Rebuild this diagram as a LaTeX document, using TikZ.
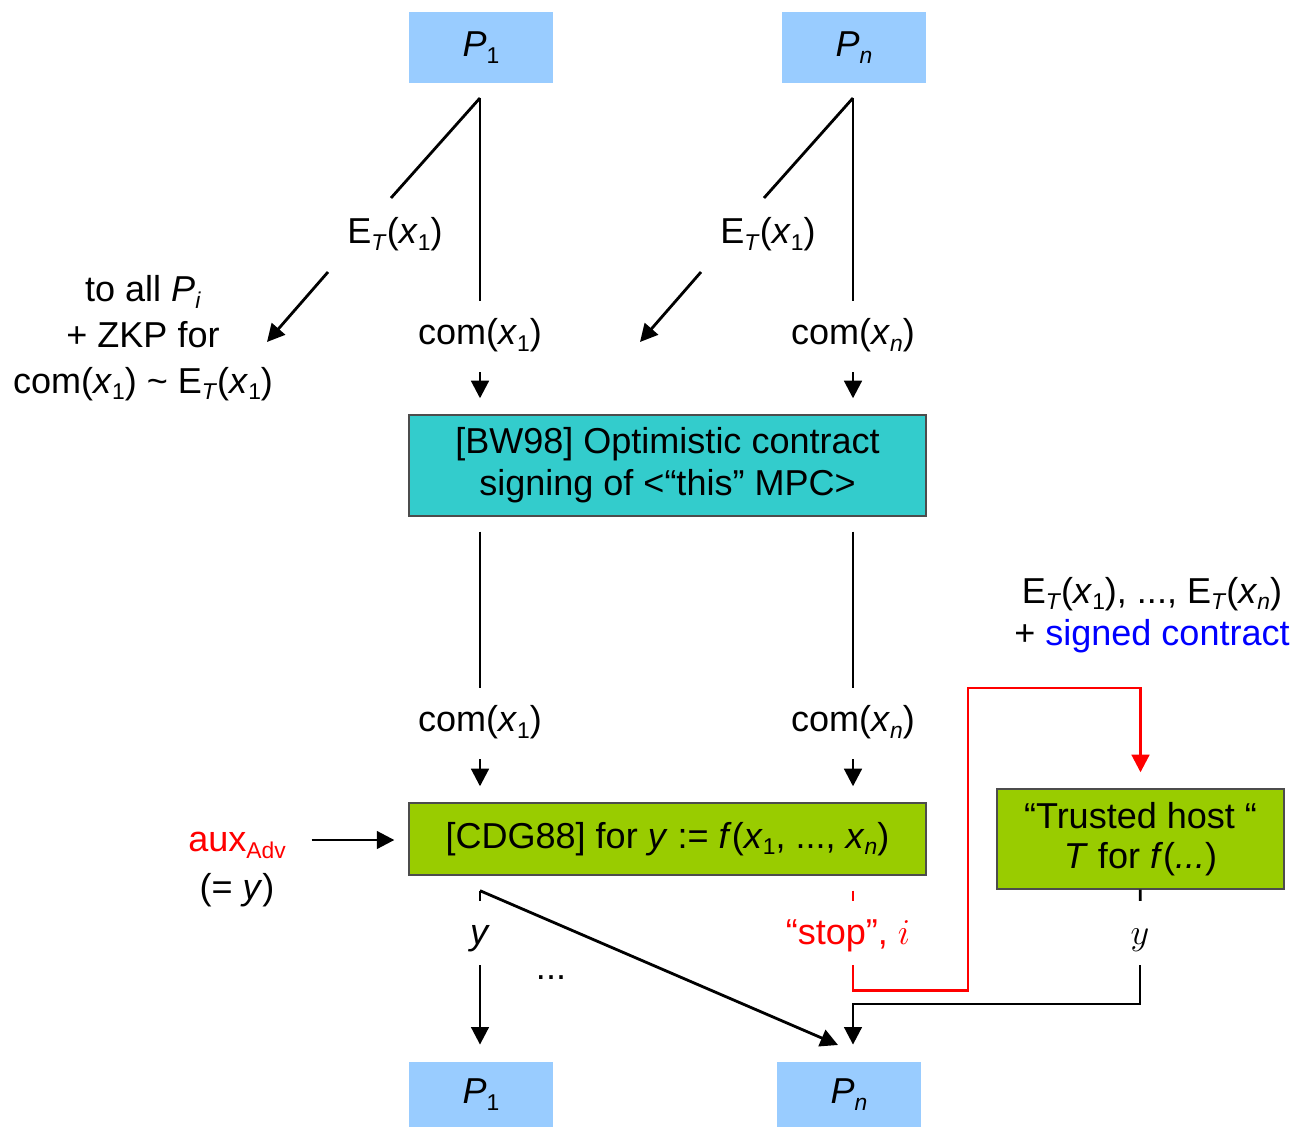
\documentclass[tikz,border=0pt]{standalone}
\usepackage{fontspec}
\setmainfont{Liberation Sans}
\usetikzlibrary{arrows.meta}
\definecolor{partyblue}{HTML}{99CCFF}
\definecolor{signteal}{HTML}{33CCCC}
\definecolor{mpcgreen}{HTML}{99CC00}
\newcommand{\lowidx}[1]{\raisebox{-0.35ex}{\fontsize{13}{13}\selectfont #1}}
\newcommand{\ix}{\textit{x}}

\begin{document}
\begin{tikzpicture}[x=0.02cm, y=-0.02cm,
        every node/.style={font=\fontsize{20.5}{24}\selectfont},
        line width=1.6pt, >={Triangle[length=10pt,width=10pt]},
        party/.style={fill=partyblue, minimum width=2.88cm, minimum height=1.42cm, inner sep=0pt},
        stagebox/.style={draw=black!70, line width=0.8pt, minimum width=10.34cm, align=center, inner sep=0pt},
        lbl/.style={inner xsep=2pt, inner ysep=10pt, text height=14pt, text depth=1pt},
        fromgap/.style={shorten <=0.3cm},
        feed/.style={->, shorten <=0.14cm, shorten >=0.32cm}]
            \useasboundingbox (0,0) rectangle (1295,1128);

            % parties
            \node[party] (p1) at (481,47.5) {\textit{P}\lowidx{1}};
            \node[party] (pn) at (854,47.5) {\textit{P}\lowidx{\textit{n}}};
            \node[party, minimum height=1.3cm] (p1b) at (481,1094.5) {\textit{P}\lowidx{1}};
            \node[party, minimum height=1.3cm] (pnb) at (849,1094.5) {\textit{P}\lowidx{\textit{n}}};

            % the two sub-protocols
            \node[stagebox, fill=signteal, minimum height=2.02cm] (bw) at (667.5,465.5)
                {[BW98] Optimistic contract\\signing of <“this” MPC>};
            \node[stagebox, fill=mpcgreen, minimum height=1.44cm] (cdg) at (667.5,839)
                {[CDG88] for \textit{y} := \textit{f}(\ix\lowidx{1}, ..., \ix\lowidx{\textit{n}})};
            \node[draw=black!70, line width=0.8pt, fill=mpcgreen, minimum width=5.74cm,
                minimum height=2cm, align=center, inner sep=0pt] (th) at (1140.5,839)
                {\raisebox{-3pt}{“Trusted host “}\\\raisebox{-2pt}{\textit{T} for \textit{f}(\textit{...})}};

            % commitments, encryptions
            \foreach \col/\xc/\idx in {1/480/1, n/853/{\textit{n}}} {
                \coordinate (t\col) at (\xc,98);
                \node[lbl] (ca\col) at (\xc,333) {com(\ix\lowidx{\idx})};
                \node[lbl] (e\col) at (\xc-85,232) {E\lowidx{\textit{T}}(\ix\lowidx{1})};
                \path (t\col) ++(-89,100) coordinate (d\col)
                    ++(-63,74) coordinate (s\col) ++(-61,70) coordinate (h\col);
                \draw (t\col) -- (t\col |- ca\col.north);
                \draw (t\col) -- (d\col);
                \draw[->] (s\col) -- (h\col);
                \draw[feed] (ca\col) -- (ca\col |- bw.north);

                \node[lbl] (cb\col) at (\xc,720) {com(\ix\lowidx{\idx})};
                \draw[fromgap] (bw.south -| cb\col) -- (cb\col);
                \draw[feed] (cb\col) -- (cb\col |- cdg.north);
            }
            \node[align=center, font=\fontsize{20.5}{26}\selectfont] (zkp) at (143,338)
                {to all \textit{P}\lowidx{\textit{i}}\\+ ZKP for\\com(\ix\lowidx{1}) \textasciitilde{} E\lowidx{\textit{T}}(\ix\lowidx{1})};

            \node[align=center] (enc) at (1152,615)
                {E\lowidx{\textit{T}}(\ix\lowidx{1}), ..., E\lowidx{\textit{T}}(\ix\lowidx{\textit{n}})\\+ \textcolor{blue}{signed contract}};

            % adversary input
            \node[lbl, text=red] (aux) at (237,840) {aux\lowidx{Adv}};
            \node[lbl] (auxy) at (237,888) {(= \textit{y})};
            \draw[->, shorten <=0.42cm, shorten >=0.28cm] (aux) -- (aux -| cdg.west);

            % outputs
            \path (cdg.south -| cb1) ++(0,15) coordinate (yd);
            \coordinate (pin) at (838,1045);
            \node[lbl] (yl) at (480,933) {\textit{y}};
            \node (dots) at (551,978) {...};
            \draw (yd) -- (yl);
            \draw[->, shorten >=0.32cm] (yl) -- (yl |- p1b.north);
            \draw[->] (yd) -- (pin);

            % abort to trusted host
            \coordinate (rc) at (968,688);
            \node[lbl, text=red] (stop) at (848,933) {“stop”, $i$};
            \draw[red, fromgap] (cdg.south -| cbn) -- (cbn |- stop.north);
            \draw[red, ->, shorten >=0.32cm] (cbn |- stop.south) -- ++(0,25) -| (rc) -| (th.north);

            \coordinate (mj) at (853,1004);
            \node[lbl] (ty) at (1140,933) {$y$};
            \draw (th) -- (ty);
            \draw[->, shorten >=0.32cm] (ty) |- (mj) -- (mj |- pnb.north);
        \end{tikzpicture}
\end{document}
